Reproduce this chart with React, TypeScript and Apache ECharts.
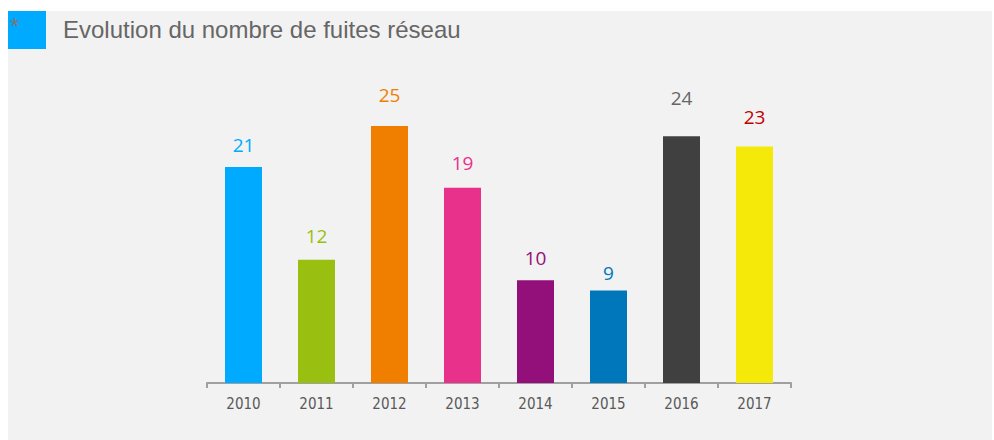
import React, { useEffect, useRef } from "react";
import * as echarts from "echarts";

const categories = ["2010", "2011", "2012", "2013", "2014", "2015", "2016", "2017"];
const values = [21, 12, 25, 19, 10, 9, 24, 23];
const titleText = "Evolution du nombre de fuites réseau";

const barColors = ["#00aaff", "#99bf10", "#f07f00", "#e8318a", "#930f7a", "#0077bb", "#404040", "#f5e90a"];
const labelColors = ["#00aaff", "#99bf10", "#f07f00", "#e8318a", "#930f7a", "#0077bb", "#666666", "#c00000"];
const labelDistances = [13, 14, 22, 15, 13, 8, 29, 20];

export default function App() {
  const ref = useRef<HTMLDivElement>(null);
  useEffect(() => {
    if (!ref.current) return;
    const chart = echarts.init(ref.current, null, { renderer: "svg" });
    chart.setOption({
      animation: false,
      backgroundColor: "#f2f2f2",
      title: {
        text: titleText,
        left: 50,
        top: 1,
        textStyle: {
          fontFamily: "Liberation Sans",
          fontSize: 24,
          fontWeight: "normal",
          color: "#666666",
        },
      },
      graphic: [
        { type: "rect", left: 0, top: 0, shape: { width: 38, height: 38 }, style: { fill: "#00aaff" } },
        {
          type: "text",
          left: 2,
          top: 3,
          style: { text: "*", fill: "#777777", font: "24px Liberation Sans" },
        },
      ],
      grid: { left: 199, width: 584, top: 115, bottom: 57, containLabel: false },
      xAxis: {
        type: "category",
        data: categories,
        axisLine: { lineStyle: { color: "#a0a0a0", width: 2 } },
        axisTick: { show: true, length: 5, lineStyle: { color: "#a0a0a0", width: 2 } },
        axisLabel: {
          margin: 13,
          fontFamily: "DejaVu Sans Condensed",
          fontSize: 15,
          color: "#595959",
        },
      },
      yAxis: {
        type: "value",
        min: 0,
        max: 25,
        show: false,
        splitLine: { show: false },
      },
      series: [
        {
          type: "bar",
          barWidth: 37,
          data: values.map((v, i) => ({
            value: v,
            itemStyle: { color: barColors[i] },
            label: {
              show: true,
              position: "top",
              distance: labelDistances[i],
              color: labelColors[i],
              fontFamily: "Open Sans",
              fontSize: 19,
            },
          })),
        },
      ],
    });
    return () => chart.dispose();
  }, []);
  return (
    <div
      ref={ref}
      style={{ position: "fixed", left: 8, top: 11, width: 984, height: 429 }}
    />
  );
}
